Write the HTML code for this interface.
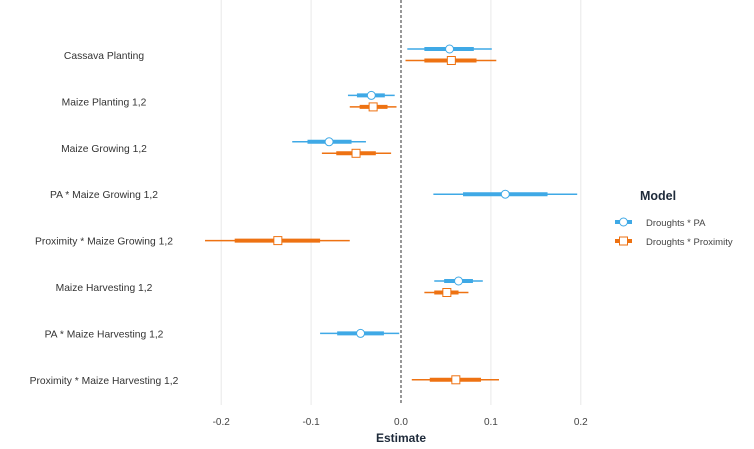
<!DOCTYPE html>
<html><head><meta charset="utf-8"><style>
body{margin:0;background:#fff;}
svg{display:block;font-family:"Liberation Sans",sans-serif;}
</style></head><body>
<svg id="chart" width="754" height="449" viewBox="0 0 754 449" xmlns="http://www.w3.org/2000/svg">
<g id="grid"></g>
<g id="ylabels"></g>
<g id="marks"></g>
<g id="xticks"></g>
<text x="401" y="442" text-anchor="middle" font-size="12" font-weight="bold" fill="#1e2a3a">Estimate</text>
<g>
<text x="658" y="200" text-anchor="middle" font-size="12.5" font-weight="bold" fill="#1e2a3a">Model</text>
<g>
<line x1="615" y1="222" x2="632" y2="222" stroke="#3fa9e6" stroke-width="4"/>
<circle cx="623.5" cy="222" r="4" fill="#fff" stroke="#3fa9e6" stroke-width="1"/>
<text x="646" y="226" font-size="9.5" fill="#444">Droughts * PA</text></g>
<g>
<line x1="615" y1="241" x2="632" y2="241" stroke="#ee7212" stroke-width="4"/>
<rect x="619.5" y="237" width="8" height="8" fill="#fff" stroke="#ee7212" stroke-width="1"/>
<text x="646" y="245" font-size="9.5" fill="#444">Droughts * Proximity</text></g>
</g>
</svg>
<script>
const categories=["Cassava Planting","Maize Planting 1,2","Maize Growing 1,2","PA * Maize Growing 1,2","Proximity * Maize Growing 1,2","Maize Harvesting 1,2","PA * Maize Harvesting 1,2","Proximity * Maize Harvesting 1,2"];
const xTicks=[-0.2,-0.1,0.0,0.1,0.2];
const xTickLabels=["-0.2","-0.1","0.0","0.1","0.2"];
// [lo95, lo50, est, hi50, hi95]; null = absent
const paValues=[[0.007,0.026,0.054,0.081,0.101],[-0.059,-0.049,-0.033,-0.018,-0.007],[-0.121,-0.104,-0.080,-0.055,-0.039],[0.036,0.069,0.116,0.163,0.196],null,[0.037,0.048,0.064,0.080,0.091],[-0.090,-0.071,-0.045,-0.019,-0.002],null];
const proxValues=[[0.005,0.026,0.056,0.084,0.106],[-0.057,-0.046,-0.031,-0.015,-0.005],[-0.088,-0.072,-0.050,-0.028,-0.011],null,[-0.218,-0.185,-0.137,-0.090,-0.057],[0.026,0.037,0.051,0.064,0.075],null,[0.012,0.032,0.061,0.089,0.109]];
const NS="http://www.w3.org/2000/svg";
function xs(v){return 401+v*899;}
function ys(i){return 55+i*46.4;}
function mk(t,a,p){const e=document.createElementNS(NS,t);for(const k in a)e.setAttribute(k,a[k]);p.appendChild(e);return e;}
const grid=document.getElementById('grid'),yl=document.getElementById('ylabels'),marks=document.getElementById('marks'),xt=document.getElementById('xticks');
xTicks.forEach((v,i)=>{
 if(v!==0){const g=mk('line',{x1:xs(v),x2:xs(v),y1:0,y2:405,stroke:'#e8e8e8','stroke-width':1},grid);
 
 }
 const t=mk('text',{x:xs(v),y:425,'text-anchor':'middle','font-size':10,fill:'#444'},xt);t.textContent=xTickLabels[i];
 
 
});
const z=mk('line',{x1:xs(0),x2:xs(0),y1:0,y2:405,stroke:'#555','stroke-width':1.2,'stroke-dasharray':'3,2'},grid);


categories.forEach((c,i)=>{
 const t=mk('text',{x:104,y:ys(i)+4,'text-anchor':'middle','font-size':10.3,fill:'#333'},yl);t.textContent=c;
 
 
 const both=paValues[i]&&proxValues[i];
 [[paValues[i],'#3fa9e6','circle',both?-6:0],[proxValues[i],'#ee7212','square',both?5.5:0]].forEach(([d,col,shape,off])=>{
  if(!d)return;const y=ys(i)+off;
  const g=mk('g',{},marks);
  
  
  mk('line',{x1:xs(d[0]),x2:xs(d[4]),y1:y,y2:y,stroke:col,'stroke-width':1.5},g);
  mk('line',{x1:xs(d[1]),x2:xs(d[3]),y1:y,y2:y,stroke:col,'stroke-width':4},g);
  if(shape==='circle')mk('circle',{cx:xs(d[2]),cy:y,r:4,fill:'#fff',stroke:col,'stroke-width':1},g);
  else mk('rect',{x:xs(d[2])-4,y:y-4,width:8,height:8,fill:'#fff',stroke:col,'stroke-width':1},g);
 });
});
</script>
</body></html>
